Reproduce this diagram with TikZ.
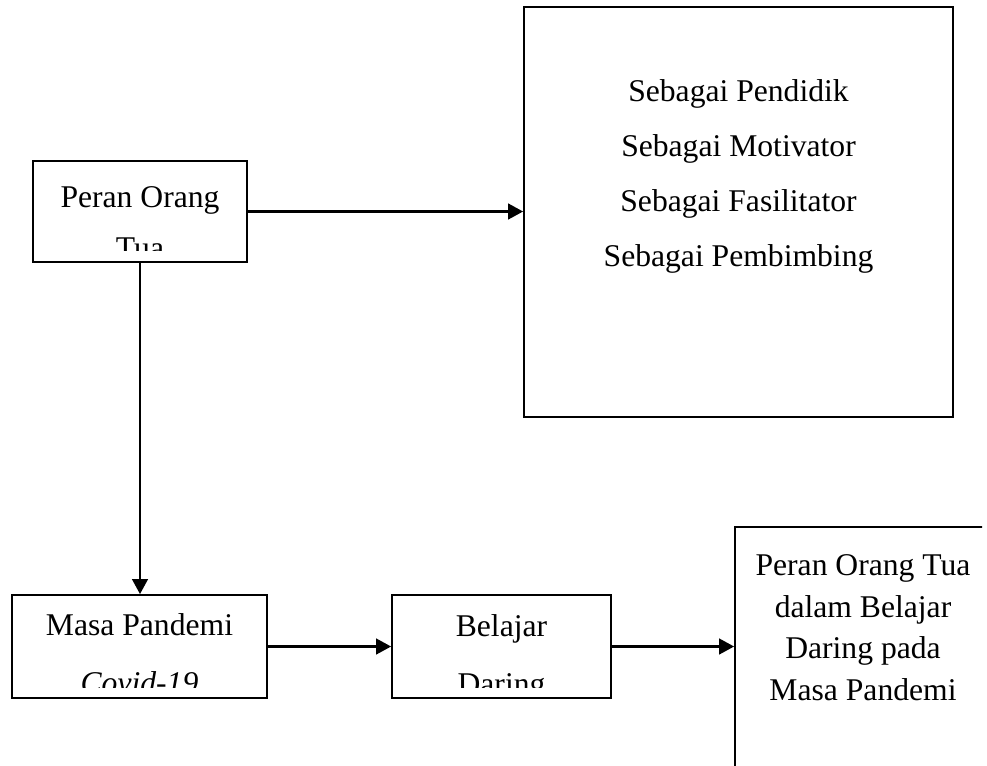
\documentclass[tikz,border=0pt]{standalone}
\usepackage{fontspec}
\setmainfont{Liberation Serif}
\usetikzlibrary{positioning,arrows.meta}

\begin{document}
\begin{tikzpicture}[x=0.02cm,y=-0.02cm,
    kotak/.style={draw,line width=1pt,inner sep=0pt},
    panah/.style={-{Triangle[length=0.3cm,width=0.31cm]},line width=1.5pt},
    teks/.style={font=\fontsize{18}{22}\selectfont,anchor=base,inner sep=0pt}]
    \useasboundingbox (0,0) rectangle (987,765);
    \clip (0,0) rectangle (982,765);

    \node[kotak,minimum width=4.28cm,minimum height=2.02cm] (peran) at (140,211.5) {};
    \node[kotak,minimum width=8.58cm,minimum height=8.2cm] (tugas) at (738.5,212) {};
    \node[kotak,minimum width=5.1cm,minimum height=2.06cm] (pandemi) at (139.5,646.5) {};
    \node[kotak,minimum width=4.38cm,minimum height=2.06cm] (daring) at (501.5,646.5) {};
    \node[kotak,minimum width=5.2cm,minimum height=5.46cm] (hasil) at (865,663.5) {};

    \begin{scope}
        \clip (peran.north west) rectangle ([yshift=0.24cm]peran.south east);
        \node[teks] (peran1) at (140,207) {Peran Orang};
        \node[teks] (peran2) at (140,258) {Tua};
    \end{scope}

    \node[teks] (tugas1) at (738.5,101.7) {Sebagai Pendidik};
    \node[teks] (tugas2) at (738.5,156.7) {Sebagai Motivator};
    \node[teks] (tugas3) at (738.5,211.7) {Sebagai Fasilitator};
    \node[teks] (tugas4) at (738.5,266.7) {Sebagai Pembimbing};

    \begin{scope}
        \clip (pandemi.north west) rectangle ([yshift=0.22cm]pandemi.south east);
        \node[teks] (pandemi1) at (139.5,635) {Masa Pandemi};
        \node[teks] (pandemi2) at (139.5,693) {\itshape Covid-19};
    \end{scope}

    \begin{scope}
        \clip (daring.north west) rectangle ([yshift=0.22cm]daring.south east);
        \node[teks] (daring1) at (501.5,636) {Belajar};
        \node[teks] (daring2) at (501.5,694) {Daring};
    \end{scope}

    \node[teks] (hasil1) at (863,575) {Peran Orang Tua};
    \node[teks] (hasil2) at (863,617) {dalam Belajar};
    \node[teks] (hasil3) at (863,658) {Daring pada};
    \node[teks] (hasil4) at (863,700) {Masa Pandemi};

    \draw[panah] (peran.east) -- (peran.east -| tugas.west);
    \draw[panah] (peran.south) -- (pandemi.north -| peran.south);
    \draw[panah] (pandemi.east) -- (daring.west);
    \draw[panah] (daring.east) -- (daring.east -| hasil.west);

\end{tikzpicture}
\end{document}
